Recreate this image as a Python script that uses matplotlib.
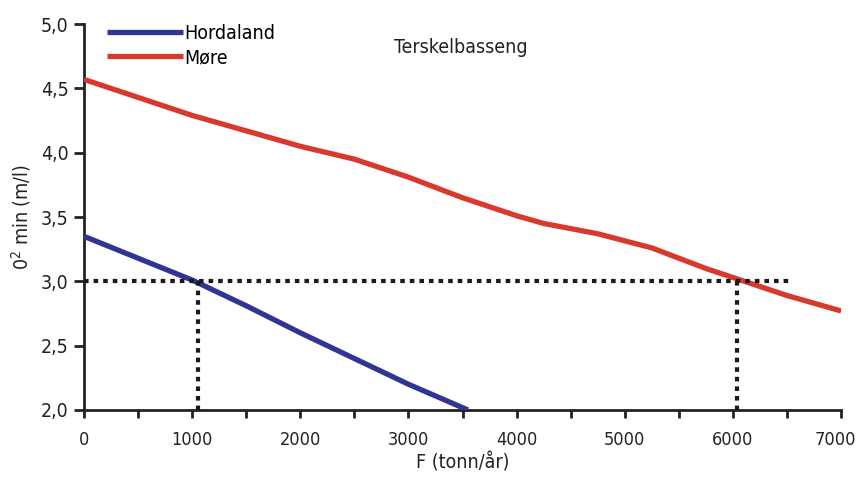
import matplotlib.pyplot as plt
from matplotlib.transforms import ScaledTranslation

plt.rcParams['font.family'] = ['DejaVu Sans']
plt.rcParams['font.stretch'] = 'condensed'

# data
hord_x = [0, 500, 1000, 1500, 2000, 2500, 3000, 3550]
hord_y = [3.35, 3.18, 3.01, 2.81, 2.60, 2.40, 2.20, 2.0]

more_x = [0, 500, 1000, 1500, 2000, 2500, 3000, 3500, 4000, 4250, 4750, 5250, 5750, 6000, 6500, 7000]
more_y = [4.57, 4.43, 4.29, 4.17, 4.05, 3.95, 3.81, 3.65, 3.51, 3.45, 3.37, 3.26, 3.10, 3.03, 2.89, 2.77]

ref_level = 3.0
hord_cross = 1050
more_cross = 6040
ref_end = 6530

fig = plt.figure(figsize=(8.6, 4.82), dpi=100)
ax = fig.add_axes([0.0977, 0.1494, 0.8803, 0.8006])

ax.plot(hord_x, hord_y, color='#2f3594', lw=3.8, label='Hordaland', solid_capstyle='butt', zorder=3)
ax.plot(more_x, more_y, color='#d9382c', lw=3.8, label='Møre', solid_capstyle='butt', zorder=3)

dot = (0, (1.1, 1.2))
ax.plot([0, ref_end], [ref_level, ref_level], color='#1a1a1a', lw=3, linestyle=dot, zorder=4)
ax.plot([hord_cross, hord_cross], [ref_level, 2.0], color='#1a1a1a', lw=3, linestyle=dot, zorder=4)
ax.plot([more_cross, more_cross], [ref_level, 2.0], color='#1a1a1a', lw=3, linestyle=dot, zorder=4)

ax.set_xlim(0, 7000)
ax.set_ylim(2.0, 5.0)
ax.set_xticks(range(0, 7001, 1000))
ax.set_xticks(range(0, 7001, 500), minor=True)
ax.set_yticks([2.0, 2.5, 3.0, 3.5, 4.0, 4.5, 5.0])
ax.set_yticklabels(['2,0', '2,5', '3,0', '3,5', '4,0', '4,5', '5,0'])

for s in ['top', 'right']:
    ax.spines[s].set_visible(False)
for s in ['left', 'bottom']:
    ax.spines[s].set_linewidth(2)
    ax.spines[s].set_color('#222222')

ax.tick_params(axis='x', which='both', direction='out', length=6, width=2, labelsize=13, pad=9, colors='#222222')
ax.tick_params(axis='y', direction='out', length=7, width=2, labelsize=14, pad=4, colors='#222222')

# nudge the last x label so it stays inside the figure
last = ax.get_xticklabels()[-1]
last.set_transform(last.get_transform() + ScaledTranslation(-4 / 72, 0, fig.dpi_scale_trans))

ax.set_xlabel('F (tonn/år)', fontsize=14, color='#222222', labelpad=3)
ax.set_ylabel('0$^2$ min (m/l)', fontsize=14, color='#222222', labelpad=6)

ax.text(0.41, 0.94, 'Terskelbasseng', transform=ax.transAxes, fontsize=14, color='#222222', ha='left', va='center')

ax.legend(loc='upper left', bbox_to_anchor=(0.02, 1.02), frameon=False, fontsize=14,
          handlelength=3.9, handletextpad=0.1, labelspacing=0.25, borderaxespad=0)

fig.savefig('out.png', dpi=100)
